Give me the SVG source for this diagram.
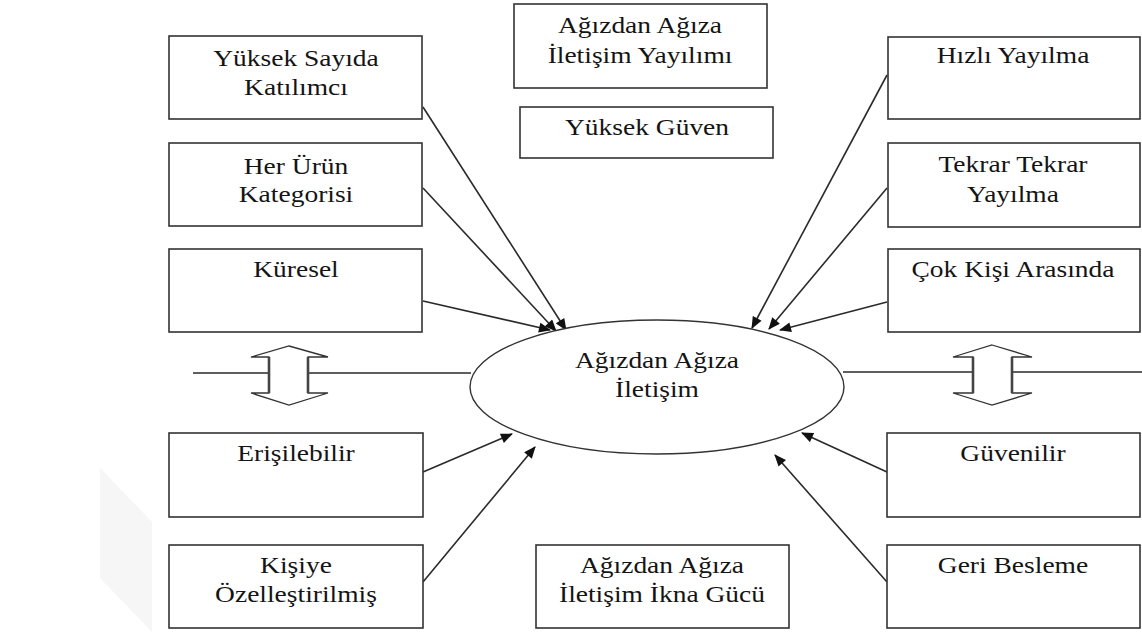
<svg xmlns="http://www.w3.org/2000/svg" width="1142" height="632" viewBox="0 0 1142 632">
  <style>
    .box { fill: #ffffff; stroke: #333333; stroke-width: 1.6; }
    .ell { fill: #ffffff; stroke: #333333; stroke-width: 1.4; }
    .lbl { font-family: 'Liberation Serif', 'DejaVu Serif', 'Times New Roman', serif; font-size: 23.5px; fill: #141414; text-anchor: middle; }
    .con { fill: none; stroke: #2a2a2a; stroke-width: 1.6; }
    .bar { fill: none; stroke: #2a2a2a; stroke-width: 1.4; }
    .dbl { fill: #ffffff; stroke: #333333; stroke-width: 1.3; }
    .shaft { stroke: #444444; stroke-width: 2.6; }
  </style>
  <defs>
    <marker id="head" viewBox="0 0 12 10" refX="11" refY="5" markerWidth="13" markerHeight="10" markerUnits="userSpaceOnUse" orient="auto">
      <path d="M0,0 L12,5 L0,10 z" fill="#111111"/>
    </marker>
  </defs>

  <rect x="0" y="0" width="1142" height="632" fill="#ffffff"/>
  <!-- faint diagonal band at the lower left -->
  <polygon points="100,468 152,522 152,632 100,578" fill="#f6f6f6"/>

  <!-- horizontal bars through the ellipse and the up/down arrows -->
  <g id="bars">
    <line class="bar" x1="193" y1="373" x2="471" y2="373"/>
    <line class="bar" x1="843" y1="372" x2="1142" y2="372"/>
  </g>

  <g id="updown-left">
    <polygon class="dbl" points="289,346 328,357 308,357 308,393 328,393 289,405 251,393 269,393 269,357 251,357"/>
    <line class="shaft" x1="269" y1="357" x2="269" y2="393"/>
    <line class="shaft" x1="308" y1="357" x2="308" y2="393"/>
  </g>
  <g id="updown-right">
    <polygon class="dbl" points="992,345 1032,357 1012,357 1012,393 1032,393 992,405 953,393 973,393 973,357 953,357"/>
    <line class="shaft" x1="973" y1="357" x2="973" y2="393"/>
    <line class="shaft" x1="1012" y1="357" x2="1012" y2="393"/>
  </g>

  <!-- connectors into the central ellipse -->
  <g id="connectors">
    <line class="con" x1="423" y1="107" x2="566" y2="330" marker-end="url(#head)"/>
    <line class="con" x1="423" y1="188" x2="556" y2="331" marker-end="url(#head)"/>
    <line class="con" x1="423" y1="301" x2="550" y2="330" marker-end="url(#head)"/>
    <line class="con" x1="887" y1="75" x2="752" y2="328" marker-end="url(#head)"/>
    <line class="con" x1="887" y1="188" x2="769" y2="329" marker-end="url(#head)"/>
    <line class="con" x1="887" y1="302" x2="780" y2="330" marker-end="url(#head)"/>
    <line class="con" x1="423" y1="472" x2="512" y2="434" marker-end="url(#head)"/>
    <line class="con" x1="423" y1="582" x2="535" y2="447" marker-end="url(#head)"/>
    <line class="con" x1="887" y1="472" x2="802" y2="433" marker-end="url(#head)"/>
    <line class="con" x1="887" y1="582" x2="775" y2="455" marker-end="url(#head)"/>
  </g>

  <g id="center">
    <ellipse class="ell" cx="657" cy="387" rx="187" ry="67"/>
    <text class="lbl" font-family="Liberation Serif, DejaVu Serif, serif" transform="translate(657,368) scale(1.17,1)">Ağızdan Ağıza</text>
    <text class="lbl" font-family="Liberation Serif, DejaVu Serif, serif" transform="translate(657,397) scale(1.17,1)">İletişim</text>
  </g>

  <g id="yuksek-sayida">
    <rect class="box" x="169" y="36" width="253" height="83"/>
    <text class="lbl" transform="translate(296,66) scale(1.17,1)">Yüksek Sayıda</text>
    <text class="lbl" transform="translate(296,95) scale(1.17,1)">Katılımcı</text>
  </g>
  <g id="her-urun">
    <rect class="box" x="169" y="143" width="253" height="83"/>
    <text class="lbl" transform="translate(296,174) scale(1.17,1)">Her Ürün</text>
    <text class="lbl" transform="translate(296,202) scale(1.17,1)">Kategorisi</text>
  </g>
  <g id="kuresel">
    <rect class="box" x="169" y="249" width="253" height="83"/>
    <text class="lbl" transform="translate(296,277) scale(1.17,1)">Küresel</text>
  </g>
  <g id="erisilebilir">
    <rect class="box" x="169" y="433" width="254" height="84"/>
    <text class="lbl" transform="translate(296,461) scale(1.17,1)">Erişilebilir</text>
  </g>
  <g id="kisiye">
    <rect class="box" x="169" y="545" width="254" height="83"/>
    <text class="lbl" transform="translate(296,573) scale(1.17,1)">Kişiye</text>
    <text class="lbl" transform="translate(296,602) scale(1.17,1)">Özelleştirilmiş</text>
  </g>

  <g id="yayilim">
    <rect class="box" x="514" y="4" width="253" height="84"/>
    <text class="lbl" transform="translate(640,33) scale(1.17,1)">Ağızdan Ağıza</text>
    <text class="lbl" transform="translate(640,63) scale(1.17,1)">İletişim Yayılımı</text>
  </g>
  <g id="yuksek-guven">
    <rect class="box" x="520" y="107" width="253" height="51"/>
    <text class="lbl" transform="translate(647,135) scale(1.17,1)">Yüksek Güven</text>
  </g>
  <g id="ikna-gucu">
    <rect class="box" x="536" y="545" width="253" height="83"/>
    <text class="lbl" transform="translate(662,573) scale(1.17,1)">Ağızdan Ağıza</text>
    <text class="lbl" transform="translate(662,602) scale(1.17,1)">İletişim İkna Gücü</text>
  </g>

  <g id="hizli">
    <rect class="box" x="888" y="37" width="252" height="82"/>
    <text class="lbl" transform="translate(1013,63) scale(1.17,1)">Hızlı Yayılma</text>
  </g>
  <g id="tekrar">
    <rect class="box" x="888" y="143" width="252" height="84"/>
    <text class="lbl" transform="translate(1013,172) scale(1.17,1)">Tekrar Tekrar</text>
    <text class="lbl" transform="translate(1013,202) scale(1.17,1)">Yayılma</text>
  </g>
  <g id="cok-kisi">
    <rect class="box" x="888" y="249" width="252" height="83"/>
    <text class="lbl" transform="translate(1013,277) scale(1.17,1)">Çok Kişi Arasında</text>
  </g>
  <g id="guvenilir">
    <rect class="box" x="887" y="433" width="253" height="84"/>
    <text class="lbl" transform="translate(1013,461) scale(1.17,1)">Güvenilir</text>
  </g>
  <g id="geri-besleme">
    <rect class="box" x="887" y="545" width="253" height="83"/>
    <text class="lbl" transform="translate(1013,573) scale(1.17,1)">Geri Besleme</text>
  </g>
</svg>
